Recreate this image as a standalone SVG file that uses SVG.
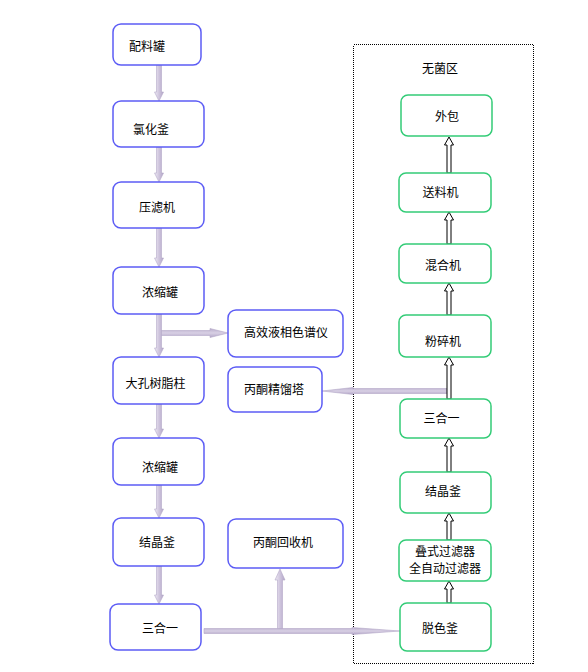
<svg xmlns="http://www.w3.org/2000/svg" width="588" height="672" viewBox="0 0 588 672">
<defs>
<linearGradient id="gv" x1="0" y1="0" x2="1" y2="0">
<stop offset="0" stop-color="#f0ecf6"/><stop offset="0.5" stop-color="#cfc5dd"/><stop offset="1" stop-color="#b3a6c8"/>
</linearGradient>
<linearGradient id="gh" x1="0" y1="0" x2="0" y2="1">
<stop offset="0" stop-color="#b9adcc"/><stop offset="0.5" stop-color="#d8d0e4"/><stop offset="1" stop-color="#b3a6c8"/>
</linearGradient>
<style>
.b{fill:#fff;stroke:#5c5cf5;stroke-width:1.5}
.g{fill:#fff;stroke:#33cc77;stroke-width:1.5}
text{font-family:"Noto Sans CJK SC","Noto Sans",sans-serif;font-size:12px;fill:#000;text-anchor:middle}
.lv{fill:url(#gv);stroke:#b4a8c8;stroke-width:0.6}
.lh{fill:url(#gh);stroke:#b4a8c8;stroke-width:0.6}
.bk{fill:#fff;stroke:#000;stroke-width:1}
</style>
</defs>
<rect width="588" height="672" fill="#fff"/>
<g id="zone">
<rect x="353.5" y="44.5" width="180" height="619" fill="none" stroke="#000" stroke-width="1" stroke-dasharray="1,1" shape-rendering="crispEdges"/>
<text x="440" y="73">无菌区</text>
</g>
<g id="connectors">
<polygon class="lv" points="156.5,65 161.5,65 161.5,92 163.5,92 159,101 154.5,92 156.5,92"/>
<polygon class="lv" points="156.5,147 161.5,147 161.5,173 163.5,173 159,182 154.5,173 156.5,173"/>
<polygon class="lv" points="156.5,228 161.5,228 161.5,258 163.5,258 159,267 154.5,258 156.5,258"/>
<polygon class="lv" points="156.5,314 161.5,314 161.5,348 163.5,348 159,357 154.5,348 156.5,348"/>
<polygon class="lh" points="161.5,330.5 210,330.5 210,328.5 228,333 210,337.5 210,335.5 161.5,335.5"/>
<polygon class="lv" points="156.5,404 161.5,404 161.5,429 163.5,429 159,438 154.5,429 156.5,429"/>
<polygon class="lv" points="156.5,485 161.5,485 161.5,509 163.5,509 159,518 154.5,509 156.5,509"/>
<polygon class="lv" points="156.5,566 161.5,566 161.5,595 163.5,595 159,604 154.5,595 156.5,595"/>
<polygon class="lh" points="204,628.5 352,628.5 352,627.5 400,631 352,634.5 352,633.5 204,633.5"/>
<polygon class="lv" points="277.5,628.5 282.5,628.5 282.5,580 285,580 280,569 275,580 277.5,580"/>
<polygon class="lh" points="447,388.5 353,388.5 353,387.5 322,391 353,394.5 353,393.5 447,393.5"/>
<path class="bk" d="M449,137 L453.5,145 L451,145 L451,173 L447,173 L447,145 L444.5,145 Z"/>
<path class="bk" d="M449,212 L453.5,220 L451,220 L451,244 L447,244 L447,220 L444.5,220 Z"/>
<path class="bk" d="M449,283 L453.5,291 L451,291 L451,315 L447,315 L447,291 L444.5,291 Z"/>
<path class="bk" d="M449,357 L453.5,365 L451,365 L451,399 L447,399 L447,365 L444.5,365 Z"/>
<path class="bk" d="M449,438 L453.5,446 L451,446 L451,472 L447,472 L447,446 L444.5,446 Z"/>
<path class="bk" d="M449,513 L453.5,521 L451,521 L451,540 L447,540 L447,521 L444.5,521 Z"/>
<path class="bk" d="M449,581 L453.5,589 L451,589 L451,603 L447,603 L447,589 L444.5,589 Z"/>
</g>
<g id="n1"><rect class="b" x="113" y="24" width="88" height="41" rx="8"/><text x="147" y="51">配料罐</text></g>
<g id="n2"><rect class="b" x="113" y="101" width="91" height="46" rx="8"/><text x="151" y="134">氯化釜</text></g>
<g id="n3"><rect class="b" x="113" y="182" width="91" height="46" rx="8"/><text x="157" y="212">压滤机</text></g>
<g id="n4"><rect class="b" x="113" y="267" width="91" height="47" rx="8"/><text x="160" y="297">浓缩罐</text></g>
<g id="n5"><rect class="b" x="113" y="357" width="91" height="47" rx="8"/><text x="155.5" y="388">大孔树脂柱</text></g>
<g id="n6"><rect class="b" x="113" y="438" width="91" height="47" rx="8"/><text x="160" y="472">浓缩罐</text></g>
<g id="n7"><rect class="b" x="113" y="518" width="91" height="48" rx="8"/><text x="157" y="547">结晶釜</text></g>
<g id="n8"><rect class="b" x="110" y="604" width="91" height="46" rx="8"/><text x="160" y="633">三合一</text></g>
<g id="n9"><rect class="b" x="228" y="310" width="115" height="47" rx="8"/><text x="286" y="337">高效液相色谱仪</text></g>
<g id="n10"><rect class="b" x="228" y="367" width="94" height="45" rx="8"/><text x="274" y="394">丙酮精馏塔</text></g>
<g id="n11"><rect class="b" x="228" y="519" width="115" height="49" rx="8"/><text x="283" y="547">丙酮回收机</text></g>
<g id="g1"><rect class="g" x="401" y="95" width="91" height="41" rx="7"/><text x="447" y="121">外包</text></g>
<g id="g2"><rect class="g" x="399" y="173" width="92" height="39" rx="7"/><text x="440.5" y="197">送料机</text></g>
<g id="g3"><rect class="g" x="399" y="244" width="92" height="39" rx="7"/><text x="443" y="270">混合机</text></g>
<g id="g4"><rect class="g" x="399" y="315" width="92" height="42" rx="7"/><text x="443" y="346">粉碎机</text></g>
<g id="g5"><rect class="g" x="400" y="399" width="91" height="39" rx="7"/><text x="441.5" y="423">三合一</text></g>
<g id="g6"><rect class="g" x="400" y="472" width="91" height="41" rx="7"/><text x="443" y="496">结晶釜</text></g>
<g id="g7"><rect class="g" x="399" y="540" width="92" height="41" rx="7"/><text x="445" y="556">叠式过滤器</text><text x="445" y="573">全自动过滤器</text></g>
<g id="g8"><rect class="g" x="400" y="603" width="91" height="48" rx="7"/><text x="440" y="633">脱色釜</text></g>
</svg>
